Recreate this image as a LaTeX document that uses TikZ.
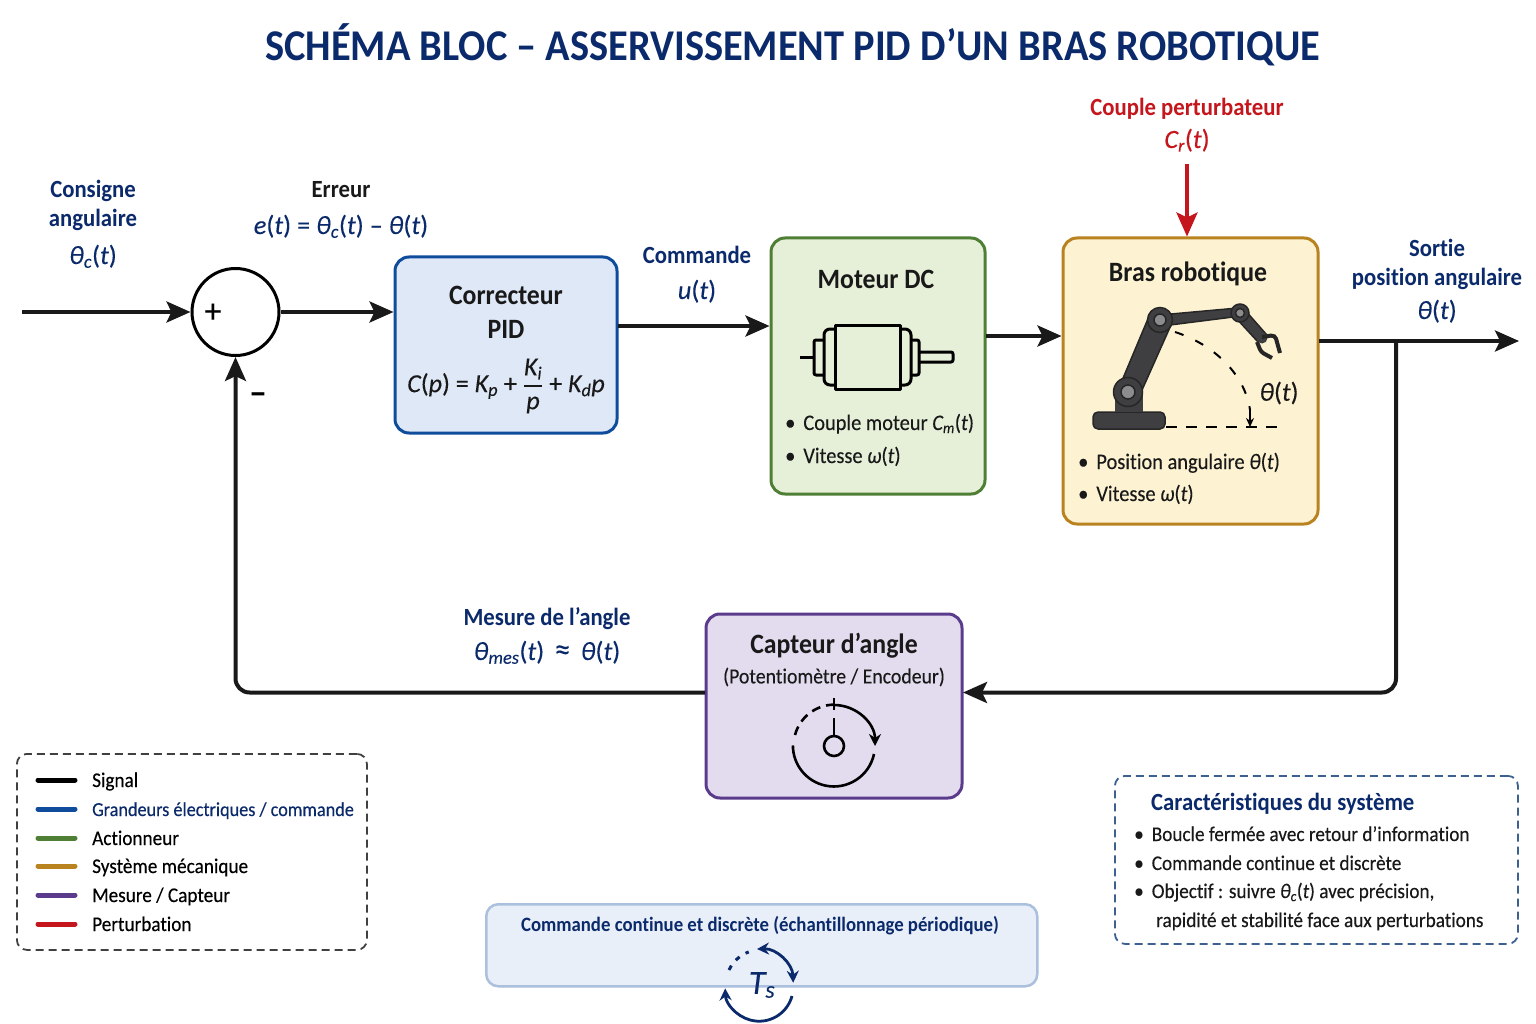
\documentclass[tikz,border=0pt]{standalone}
\usepackage{fontspec}
\setmainfont{Carlito}[FakeStretch=0.92,Ligatures=NoCommon,UprightFeatures={FakeBold=0.25},ItalicFeatures={FakeBold=0.2}]
\newfontfamily\nat{Carlito}[Ligatures=NoCommon,UprightFeatures={FakeBold=0.2},ItalicFeatures={FakeBold=0.15}]
\usepackage{xcolor}
\usetikzlibrary{arrows.meta,calc}
\definecolor{navy}{HTML}{0B2A6B}
\definecolor{bleuB}{HTML}{0F4C9C}
\definecolor{bleuF}{HTML}{DFE8F6}
\definecolor{vertB}{HTML}{4F7F35}
\definecolor{vertF}{HTML}{E6F0D8}
\definecolor{jauneB}{HTML}{B9831F}
\definecolor{jauneF}{HTML}{FDF3D3}
\definecolor{violB}{HTML}{5B3B8C}
\definecolor{violF}{HTML}{E3DCEF}
\definecolor{rouge}{HTML}{C4161C}
\definecolor{gris}{HTML}{3F3F42}
\newcommand{\fs}[1]{\fontsize{#1}{#1}\selectfont}
\newcommand{\ii}[1]{{\itshape #1}}
\newcommand{\puce}{\textbullet\hspace{8pt}}
\tikzset{
  bloc/.style={draw,line width=3pt,rounded corners=14pt,anchor=north west,inner sep=0pt},
  sig/.style={line width=4pt,draw=black!90,-{Stealth[length=24pt,width=21pt,inset=5pt]}},
  titre/.style={font=\fs{28}\bfseries,text=black!90,text height=20pt,text depth=2pt},
  lab/.style={font=\fs{24.7}\bfseries,text=navy,text height=19pt,text depth=3pt},
  eq/.style={font=\nat\fs{26.3},text=navy,text height=19pt,text depth=3pt},
  txt/.style={font=\fs{22.2},anchor=west,text=black!90,inner sep=0pt,text height=16pt,text depth=2pt},
  leg/.style={font=\fs{20.9},anchor=west,text=black!90,inner sep=0pt,text height=16pt,text depth=2pt},
  legl/.style={line width=5pt,line cap=round},
  trait/.style={line width=3pt,line join=round},
  boite/.style={line width=1.8pt,dash pattern=on 8pt off 5pt,rounded corners=10pt,anchor=north west,inner sep=0pt},
}
\begin{document}
\begin{tikzpicture}[x=1pt,y=-1pt]
  \useasboundingbox (0,0) rectangle (1536,1024);
  \fill[white] (0,0) rectangle (1536,1024);

  % titre
  \node[font=\fs{43.9}\bfseries,text=navy] (titre) at (792.5,45) {SCHÉMA BLOC – ASSERVISSEMENT PID D’UN BRAS ROBOTIQUE};

  % blocs
  \node[bloc,draw=bleuB,fill=bleuF,minimum width=222pt,minimum height=176pt] (pid) at (393.5,255.5) {};
  \node[bloc,draw=vertB,fill=vertF,minimum width=214pt,minimum height=256pt] (moteur) at (769.5,236.5) {};
  \node[bloc,draw=jauneB,fill=jauneF,minimum width=255pt,minimum height=286pt] (bras) at (1061.5,236.5) {};
  \node[bloc,draw=violB,fill=violF,minimum width=256pt,minimum height=184pt] (capteur) at (704.5,612.5) {};
  \node[circle,draw,line width=3pt,minimum size=87pt,inner sep=0pt] (somme) at (235.5,312) {};
  \node[font=\nat\fs{34}] (plus) at (213,313) {+};
  \node[font=\nat\fs{36}\bfseries] (moins) at (258,399) {–};

  % correcteur
  \node[titre] (pidA) at (506,295) {Correcteur};
  \node[titre] (pidB) at (506,329) {PID};
  \node[font=\nat\fs{26},text=black!90] (pidC) at (506,386) {\ii{C}(\ii{p}) = \ii{K}\textsubscript{\ii{p}} + $\displaystyle{\hbox{\ii{K}\textsubscript{\ii{i}}}\above 1.2pt\hbox{\ii{p}}}$ + \ii{K}\textsubscript{\ii{d}}\ii{p}};

  % moteur
  \node[titre] (motA) at (876,279) {Moteur DC};
  \draw[trait] (800,357) -- (814,357);
  \draw[trait,rounded corners=2pt] (824,340) -- (814,340) -- (814,375) -- (824,375);
  \draw[trait,rounded corners=6pt] (835,329) -- (824,329) -- (824,385) -- (835,385);
  \draw[trait] (835,325) rectangle (900,389);
  \draw[trait,rounded corners=6pt] (900,329) -- (911,329) -- (911,385) -- (900,385);
  \draw[trait,rounded corners=2pt] (911,340) -- (919,340) -- (919,375) -- (911,375);
  \draw[trait,rounded corners=2pt] (919,352) -- (953,352) -- (953,362) -- (919,362);
  \node[txt] (motB) at (785,423) {\puce Couple moteur \ii{C}\textsubscript{\ii{m}}(\ii{t})};
  \node[txt] (motC) at (785,456) {\puce Vitesse \ii{ω}(\ii{t})};

  % bras
  \node[titre] (brasA) at (1188,273) {Bras robotique};
  \draw[gris,line width=1.5pt,draw=black!85,fill=gris,rounded corners=5pt] (1093,429) -- (1093,412) -- (1165,412) -- (1165,429) -- cycle;
  \fill[gris] (1115,412) -- (1115,392) -- (1143,392) -- (1143,412) -- cycle;
  \draw[black!85,line width=1.5pt,fill=gris] (1121,383) -- (1150,314) -- (1171,325) -- (1138,399) -- cycle;
  \draw[black!85,line width=1.5pt,fill=gris] (1160,315) -- (1238,308) -- (1241,316) -- (1162,326) -- cycle;
  \draw[black!85,line width=1.5pt,fill=gris] (1236,318) -- (1244,309) -- (1266,334) -- (1258,342) -- cycle;
  \foreach \px/\py/\ra/\rb in {1128/392/14.5/7, 1160/320/12.5/6, 1240/313/9/4.5} {
    \draw[black!85,line width=1.5pt,fill=gris] (\px,\py) circle (\ra pt);
    \draw[black!85,line width=1.5pt,fill=black!45] (\px,\py) circle (\rb pt);
  }
  \fill[gris] (1262,338) circle (5.5pt);
  \draw[black!85,line width=4pt,rounded corners=4pt] (1262,337) -- (1275,335) -- (1280,353);
  \draw[black!85,line width=4pt,rounded corners=3pt] (1257,342) -- (1261,352) -- (1272,358);
  \draw[line width=2pt,dash pattern=on 11pt off 9pt] (1166,427) -- (1277,427);
  \draw[line width=2pt,dash pattern=on 9pt off 13pt] (1175,332) .. controls (1215,345) and (1245,375) .. (1250,410);
  \coordinate (arcFin) at (1250,427);
  \draw[line width=2pt,-{Stealth[length=9pt,width=8pt]}] (1250,410) -- (arcFin);
  \node[font=\nat\fs{26},text=black!90] (brasT) at (1279,393) {\ii{θ}(\ii{t})};
  \node[txt] (brasB) at (1078,462) {\puce Position angulaire \ii{θ}(\ii{t})};
  \node[txt] (brasC) at (1078,494) {\puce Vitesse \ii{ω}(\ii{t})};

  % capteur
  \node[titre] (capA) at (834,644) {Capteur d’angle};
  \node[font=\fs{21.5},text=black!90] (capB) at (834,677) {(Potentiomètre / Encodeur)};
  \node[circle,draw,line width=2.6pt,minimum size=20pt,inner sep=0pt] (axe) at (834,746) {};
  \draw[line width=2.6pt] (834,698) -- (834,710);
  \draw[line width=2.6pt] (834,718) -- (axe.north);
  \draw[line width=2.6pt,-{Stealth[length=12pt,width=12pt]}] (834,705) arc[start angle=90,end angle=0,radius=41pt];
  \draw[line width=2.6pt] (874,754) arc[start angle=-12,end angle=-180,radius=41pt];
  \draw[line width=2.6pt,dash pattern=on 9pt off 6pt] (795,735) arc[start angle=165,end angle=92,radius=41pt];

  % signaux
  \coordinate (entree) at (22,312);
  \coordinate (pidS) at (618,326);
  \coordinate (motS) at (986,336);
  \coordinate (brasS) at (1319,341);
  \coordinate (sortie) at (1519,341);
  \coordinate (noeud) at (1396,341);
  \coordinate (retour) at (963,692.5);
  \coordinate (capS) at (705,692.5);
  \coordinate (coupleH) at (1187,164);
  \draw[sig] (entree) -- (somme.west);
  \draw[sig] (somme.east) -- (somme.east -| pid.west);
  \draw[sig] (pidS) -- (pidS -| moteur.west);
  \draw[sig] (motS) -- (motS -| bras.west);
  \draw[sig] (brasS) -- (sortie);
  \draw[sig,rounded corners=14pt] (noeud) -- (noeud |- retour) -- (retour);
  \draw[sig,rounded corners=14pt] (capS) -- (somme.south |- capS) -- (somme.south);
  \draw[line width=4pt,draw=rouge,-{Stealth[length=24pt,width=21pt,inset=5pt]}] (coupleH) -- (coupleH |- bras.north);

  % etiquettes
  \node[lab] (consA) at (93,190) {Consigne};
  \node[lab] (consB) at (93,219) {angulaire};
  \node[eq] (consC) at (93,256) {\ii{θ}\textsubscript{\ii{c}}(\ii{t})};
  \node[lab,text=black!90] (errA) at (341,190) {Erreur};
  \node[eq] (errB) at (341,226) {\ii{e}(\ii{t}) = \ii{θ}\textsubscript{\ii{c}}(\ii{t}) – \ii{θ}(\ii{t})};
  \node[lab] (comA) at (697,256) {Commande};
  \node[eq] (comB) at (697,291) {\ii{u}(\ii{t})};
  \node[lab,text=rouge] (perA) at (1187,108) {Couple perturbateur};
  \node[eq,text=rouge] (perB) at (1187,140) {\ii{C}\textsubscript{\ii{r}}(\ii{t})};
  \node[lab] (sorA) at (1437,249) {Sortie};
  \node[lab] (sorB) at (1437,278) {position angulaire};
  \node[eq] (sorC) at (1437,311) {\ii{θ}(\ii{t})};
  \node[lab] (mesA) at (547,617) {Mesure de l’angle};
  \node[eq] (mesB) at (547,652) {\ii{θ}\textsubscript{\ii{mes}}(\ii{t})\, {\fs{32}≈}\, \ii{θ}(\ii{t})};

  % legende
  \node[boite,draw=black!75,minimum width=350pt,minimum height=196pt] (legende) at (16,753) {};
  \foreach \ly/\lc/\lt/\ltc in {780/black/Signal/black,
      809/bleuB/\fs{19.8}Grandeurs électriques \slash{} commande/navy,
      838/vertB/Actionneur/black,
      866/jauneB/Système mécanique/black,
      895/violB/Mesure \slash{} Capteur/black,
      924/rouge/Perturbation/black} {
    \draw[legl,draw=\lc] (38,\ly) -- (75,\ly);
    \node[leg,text=\ltc] at (92,\ly) {\lt};
  }

  % caracteristiques
  \node[boite,draw=bleuB!60!gray,minimum width=403pt,minimum height=168pt] (carac) at (1114,775) {};
  \node[lab,anchor=west,inner sep=0pt] (carA) at (1151,802) {Caractéristiques du système};
  \node[leg] (carB) at (1134,834) {\puce Boucle fermée avec retour d’information};
  \node[leg] (carC) at (1134,863) {\puce Commande continue et discrète};
  \node[leg] (carD) at (1134,891) {\puce Objectif : suivre \ii{θ}\textsubscript{\ii{c}}(\ii{t}) avec précision,};
  \node[leg] (carE) at (1156,920) {rapidité et stabilité face aux perturbations};

  % echantillonnage
  \node[draw=bleuB!35,fill=bleuF!70,line width=2.5pt,rounded corners=12pt,anchor=north west,inner sep=0pt,minimum width=551pt,minimum height=82pt] (ech) at (485,903) {};
  \node[font=\fs{20.4}\bfseries,text=navy] (echA) at (760,926) {Commande continue et discrète (échantillonnage périodique)};
  \node[font=\nat\fs{34},text=navy] (ts) at (762,985) {\ii{T}\textsubscript{\ii{s}}};
  \draw[navy,line width=2.8pt,{Stealth[length=12pt,width=12pt]}-{Stealth[length=12pt,width=12pt]}] (757,949) arc[start angle=92,end angle=2,radius=35pt];
  \draw[navy,line width=2.8pt,-{Stealth[length=12pt,width=12pt]}] (792,996) arc[start angle=-15,end angle=-178,radius=34pt];
  \draw[navy,line width=3pt,dash pattern=on 5pt off 7pt] (729,970) arc[start angle=155,end angle=110,radius=35pt];
\end{tikzpicture}
\end{document}
